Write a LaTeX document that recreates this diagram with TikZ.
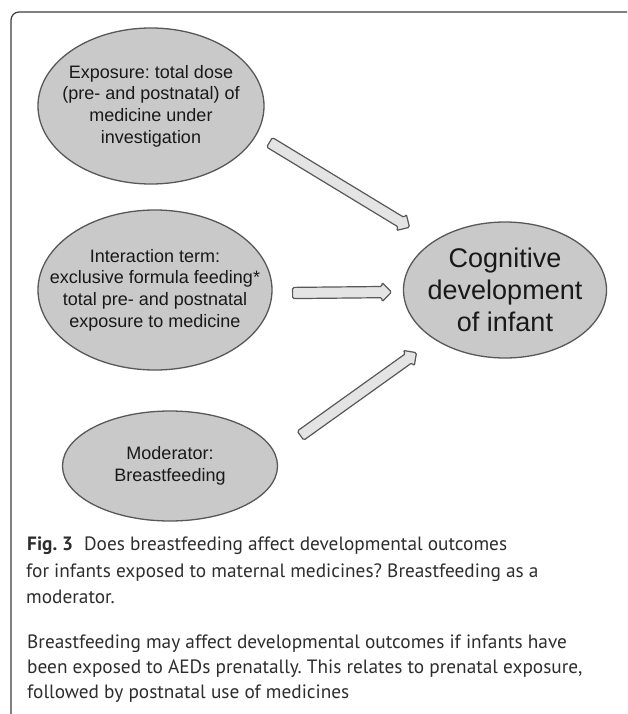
\documentclass[tikz,border=0pt]{standalone}
\usepackage{fontspec}
\setmainfont{Liberation Sans}
\newfontfamily\captionfont{PT Sans}
\usetikzlibrary{shapes,arrows,positioning,calc}

\definecolor{ovalgray}{RGB}{201,201,201}
\definecolor{edgegray}{RGB}{88,88,88}
\definecolor{framegray}{RGB}{60,60,60}
\definecolor{arrowfill}{RGB}{228,228,228}
\definecolor{captiontext}{RGB}{45,45,45}

% block arrow between two points
\newcommand{\fatlink}[2]{%
    \path let \p1=($(#2)-(#1)$), \n1={atan2(\y1,\x1)}, \n2={veclen(\x1,\y1)} in
        node[fatarrow, minimum height=\n2, rotate=\n1, anchor=tail] at (#1) {};}

\begin{document}
\frenchspacing
\begin{tikzpicture}[x=1pt, y=-1pt,
    oval/.style={ellipse, draw=edgegray, line width=1.3pt, fill=ovalgray, inner sep=0pt},
    ovaltext/.style={align=center, inner sep=0pt, text=black!90, font=\fontsize{18}{21.6}\selectfont},
    fatarrow/.style={single arrow, draw=edgegray, fill=arrowfill, line width=1.2pt,
        inner xsep=0pt, inner ysep=5pt, single arrow head extend=4pt, rounded corners=1.5pt},
    capline/.style={anchor=base west, inner sep=0pt, text=captiontext,
        font=\captionfont\fontsize{19.3}{25}\selectfont}]
    \useasboundingbox (0,0) rectangle (627,714);

    % Frame
    \draw[framegray, line width=1.2pt, rounded corners=8pt] (11,714) -- (11,12) -- (627,12);

    % Ellipses
    \node[oval, minimum width=226, minimum height=156] (expo) at (151,106) {};
    \node[oval, minimum width=234, minimum height=160] (inter) at (155,290) {};
    \node[oval, minimum width=215, minimum height=110] (moder) at (170,466) {};
    \node[oval, minimum width=203, minimum height=136] (cog) at (505,290) {};

    % Ellipse texts
    \node[ovaltext] (expo-text) at (expo)
        {Exposure: total dose\\(pre- and postnatal) of\\medicine under\\investigation};
    \node[ovaltext] (inter-text) at (inter)
        {Interaction term:\\exclusive formula feeding*\\total pre- and postnatal\\exposure to medicine};
    \node[ovaltext] (moder-text) at (moder) {Moderator:\\Breastfeeding};
    \node[ovaltext, font=\fontsize{27}{32}\selectfont] (cog-text) at (cog)
        {Cognitive\\development\\of infant};

    % Arrow ends
    \coordinate (expo-out) at ($(expo)+(118,36)$);
    \coordinate (inter-out) at ($(inter)+(137,3)$);
    \coordinate (moder-out) at ($(moder)+(130,-30)$);
    \coordinate (cog-in1) at ($(cog)+(-96,-63)$);
    \coordinate (cog-in2) at ($(cog)+(-114,2)$);
    \coordinate (cog-in3) at ($(cog)+(-89,63)$);

    % Arrows
    \fatlink{expo-out}{cog-in1}
    \fatlink{inter-out}{cog-in2}
    \fatlink{moder-out}{cog-in3}

    % Caption
    \node[capline] (cap1) at (27,550) {\textbf{Fig. 3}\hspace{11pt}Does breastfeeding affect developmental outcomes};
    \node[capline] (cap2) at (26,577) {for infants exposed to maternal medicines? Breastfeeding as a};
    \node[capline] (cap3) at (26,603) {moderator.};
    \node[capline] (body1) at (27,648) {Breastfeeding may affect developmental outcomes if infants have};
    \node[capline] (body2) at (27,673) {been exposed to AEDs prenatally. This relates to prenatal exposure,};
    \node[capline] (body3) at (27,698) {followed by postnatal use of medicines};
\end{tikzpicture}
\end{document}
